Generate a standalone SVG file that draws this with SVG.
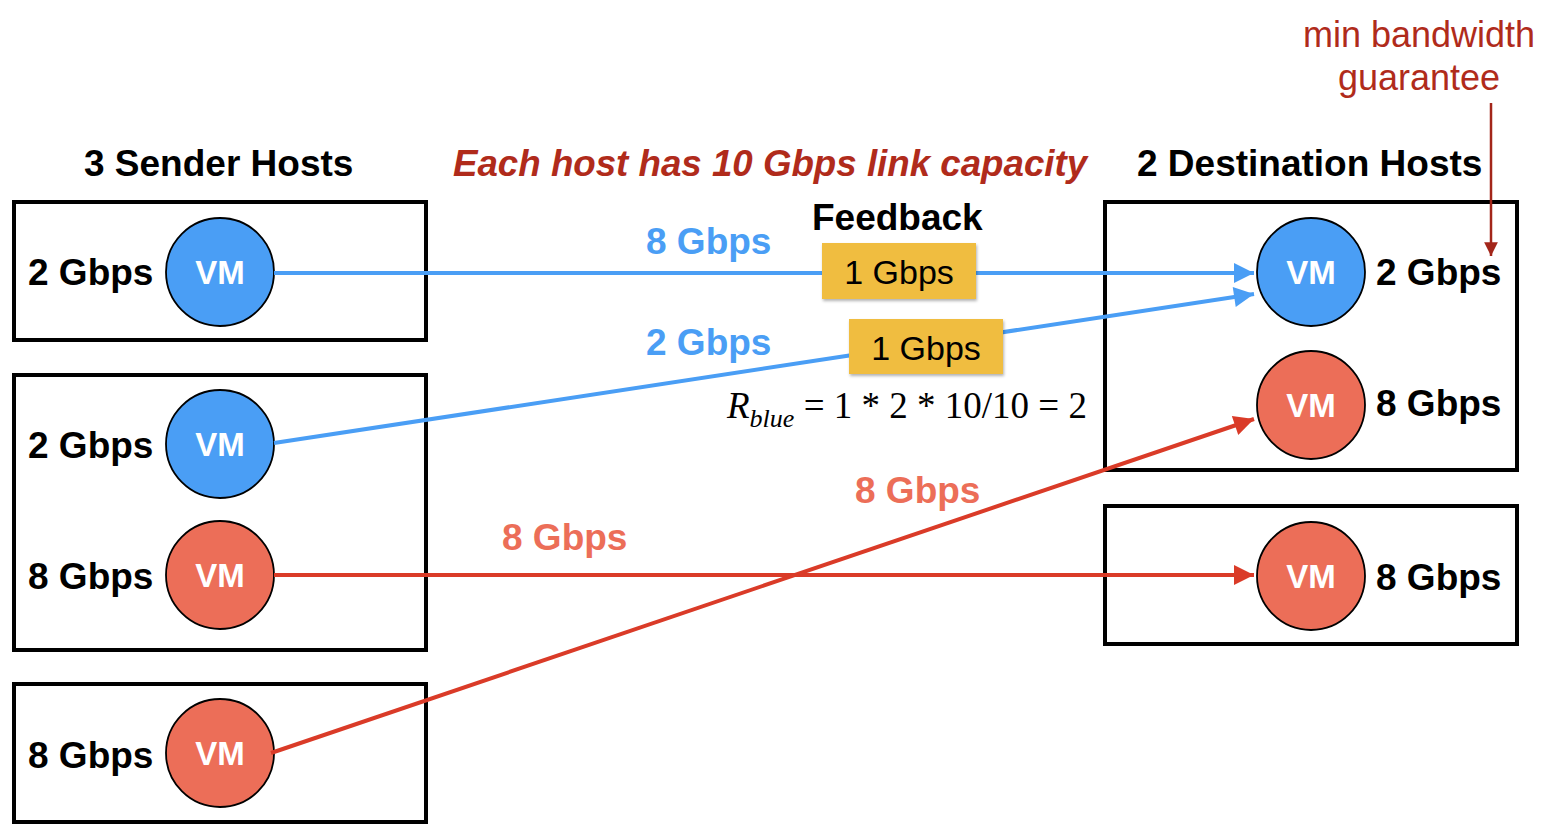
<svg xmlns="http://www.w3.org/2000/svg" width="1556" height="838" viewBox="0 0 1556 838">
<style>
.host{fill:#fff;stroke:#000;stroke-width:4}
.vm{stroke:#000;stroke-width:1.8}
.blue{fill:#4A9EF5}
.red{fill:#EC6E58}
.vmt{font-family:"Liberation Sans",Arial,sans-serif;font-weight:bold;font-size:33px;fill:#fff;text-anchor:middle}
.lbl{font-family:"Liberation Sans",Arial,sans-serif;font-weight:bold;font-size:37px;fill:#000}
.bl{fill:#4A9EF5}
.rl{fill:#EC6E58}
.title{font-family:"Liberation Sans",Arial,sans-serif;font-weight:bold;font-size:37px;fill:#000}
.cap{font-family:"Liberation Sans",Arial,sans-serif;font-weight:bold;font-style:italic;font-size:36.7px;fill:#B02B1B}
.note{font-family:"Liberation Sans",Arial,sans-serif;font-size:36px;fill:#B02B1B;text-anchor:middle}
.fb{fill:#F0BD40}
.fbt{font-family:"Liberation Sans",Arial,sans-serif;font-size:34px;fill:#000;text-anchor:middle}
.lb{stroke:#4A9EF5;stroke-width:4;fill:none}
.lr{stroke:#DA3B28;stroke-width:4;fill:none}
.math{font-family:"Liberation Serif","Times New Roman",serif;font-size:37px;fill:#000}
</style>
<defs>
<marker id="ab" viewBox="0 0 10 10" refX="10" refY="5" markerWidth="5.5" markerHeight="5" markerUnits="strokeWidth" orient="auto">
<path d="M0,0 L10,5 L0,10 z" fill="#4A9EF5"/>
</marker>
<marker id="ar" viewBox="0 0 10 10" refX="10" refY="5" markerWidth="5.5" markerHeight="5" markerUnits="strokeWidth" orient="auto">
<path d="M0,0 L10,5 L0,10 z" fill="#DA3B28"/>
</marker>
<marker id="an" viewBox="0 0 10 10" refX="10" refY="5" markerWidth="6" markerHeight="5.5" markerUnits="strokeWidth" orient="auto">
<path d="M0,0 L10,5 L0,10 z" fill="#A3261A"/>
</marker>
<filter id="sh" x="-10%" y="-10%" width="130%" height="140%">
<feDropShadow dx="1" dy="2" stdDeviation="1.5" flood-color="#000" flood-opacity="0.3"/>
</filter>
</defs>

<text class="title" x="84" y="176">3 Sender Hosts</text>
<text class="title" x="1137" y="176">2 Destination Hosts</text>
<text class="cap" x="453" y="176">Each host has 10 Gbps link capacity</text>
<text class="note" x="1419" y="47">min bandwidth</text>
<text class="note" x="1419" y="90">guarantee</text>

<g id="sender1">
<rect class="host" x="14" y="202" width="412" height="138"/>
<text class="lbl" x="28" y="285">2 Gbps</text>
<circle class="vm blue" cx="220" cy="272" r="54"/>
<text class="vmt" x="220" y="284">VM</text>
</g>
<g id="sender2">
<rect class="host" x="14" y="375" width="412" height="275"/>
<text class="lbl" x="28" y="458">2 Gbps</text>
<circle class="vm blue" cx="220" cy="444" r="54"/>
<text class="vmt" x="220" y="456">VM</text>
<text class="lbl" x="28" y="589">8 Gbps</text>
<circle class="vm red" cx="220" cy="575" r="54"/>
<text class="vmt" x="220" y="587">VM</text>
</g>
<g id="sender3">
<rect class="host" x="14" y="684" width="412" height="138"/>
<text class="lbl" x="28" y="768">8 Gbps</text>
<circle class="vm red" cx="220" cy="753" r="54"/>
<text class="vmt" x="220" y="765">VM</text>
</g>

<g id="dest1">
<rect class="host" x="1105" y="202" width="412" height="268"/>
<circle class="vm blue" cx="1311" cy="272" r="54"/>
<text class="vmt" x="1311" y="284">VM</text>
<text class="lbl" x="1376" y="285">2 Gbps</text>
<circle class="vm red" cx="1311" cy="405" r="54"/>
<text class="vmt" x="1311" y="417">VM</text>
<text class="lbl" x="1376" y="416">8 Gbps</text>
</g>
<g id="dest2">
<rect class="host" x="1105" y="506" width="412" height="138"/>
<circle class="vm red" cx="1311" cy="576" r="54"/>
<text class="vmt" x="1311" y="588">VM</text>
<text class="lbl" x="1376" y="590">8 Gbps</text>
</g>

<g id="connectors">
<line class="lb" x1="274" y1="273" x2="1254" y2="273" marker-end="url(#ab)"/>
<line class="lb" x1="274" y1="443" x2="1254" y2="294" marker-end="url(#ab)"/>
<line class="lr" x1="274" y1="575" x2="1254" y2="575" marker-end="url(#ar)"/>
<line class="lr" x1="271" y1="753" x2="1254" y2="419" marker-end="url(#ar)"/>
<line stroke="#A3261A" stroke-width="2.5" x1="1491" y1="103" x2="1491" y2="256" marker-end="url(#an)"/>
</g>

<g id="labels">
<text class="lbl bl" x="646" y="254">8 Gbps</text>
<text class="lbl bl" x="646" y="355">2 Gbps</text>
<text class="lbl rl" x="502" y="550">8 Gbps</text>
<text class="lbl rl" x="855" y="503">8 Gbps</text>
<text class="title" x="812" y="230">Feedback</text>
</g>

<g id="feedback1">
<rect class="fb" x="822" y="243" width="154" height="56" filter="url(#sh)"/>
<text class="fbt" x="899" y="284">1 Gbps</text>
</g>
<g id="feedback2">
<rect class="fb" x="849" y="319" width="154" height="55" filter="url(#sh)"/>
<text class="fbt" x="926" y="360">1 Gbps</text>
</g>

<g id="formula">
<text class="math" x="727" y="418"><tspan font-style="italic">R</tspan><tspan font-style="italic" font-size="26" dy="9">blue</tspan><tspan dy="-9"> = 1 * 2 * 10/10 = 2</tspan></text>
</g>
</svg>
